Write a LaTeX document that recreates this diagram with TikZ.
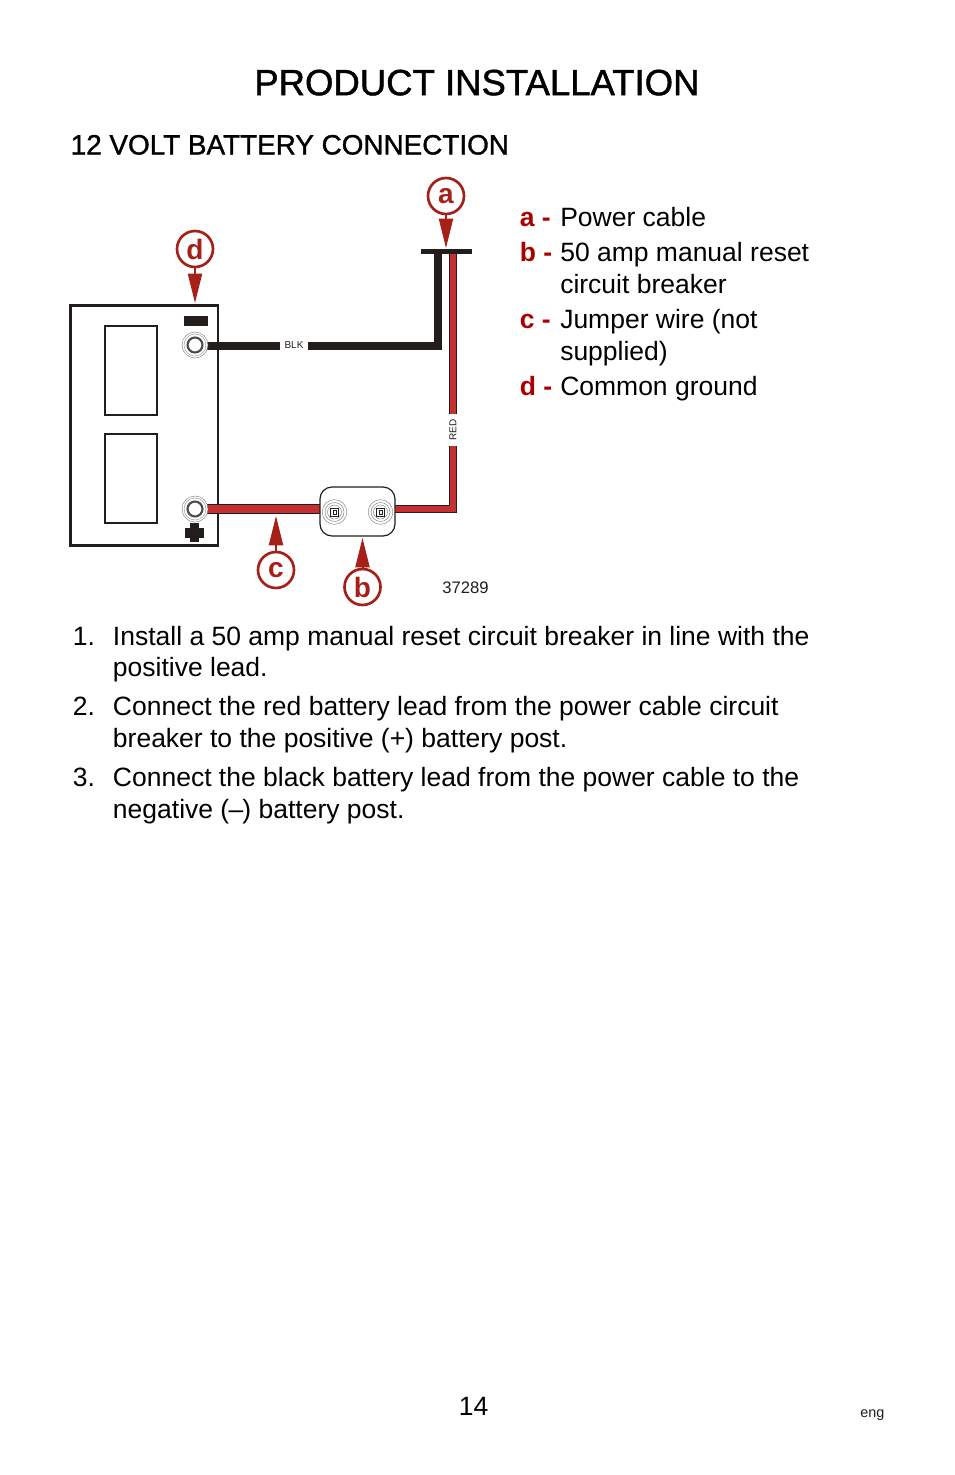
\documentclass[tikz,border=0pt]{standalone}
\usepackage{fontspec}
\setmainfont{Liberation Sans}
\newfontfamily\headfont[FakeBold=1.2]{Liberation Sans}
\usetikzlibrary{arrows.meta,calc}
\definecolor{wirered}{RGB}{196,48,48}
\definecolor{calloutred}{RGB}{166,32,26}
\definecolor{keyred}{RGB}{170,0,0}
\definecolor{inkblack}{RGB}{35,30,28}
\newcommand{\unitpx}{*0.75pt}
\tikzset{
  txt/.style={anchor=base west,inner sep=0pt,text=black},
  body/.style={txt,font=\fontsize{19.87}{24}\selectfont},
  keyletter/.style={txt,font=\fontsize{19.87}{24}\selectfont\bfseries,text=keyred},
  tiny/.style={inner sep=2pt,fill=white,text=inkblack,font=\fontsize{7.5}{9}\selectfont},
  callout/.style={circle,draw=calloutred,line width=2pt,fill=white,minimum size=36\unitpx,inner sep=0pt,text=calloutred,font=\fontsize{21}{24}\selectfont\bfseries},
  pointer/.style={calloutred,line width=1.5pt,-{Triangle[length=22pt,width=10.5pt]}},
  stud/.style={circle,draw=black!55,line width=.3pt,fill=white,inner sep=0pt},
}
\begin{document}
\begin{tikzpicture}[x=0.75pt,y=-0.75pt]
\useasboundingbox (0,0) rectangle (954,1475);
% headings
\node[txt,font=\fontsize{27.4}{32}\selectfont\headfont] (title) at (254,95.2) {PRODUCT INSTALLATION};
\node[txt,font=\fontsize{20.9}{26}\selectfont\headfont] (section) at (70.5,154.4) {12 VOLT BATTERY CONNECTION};
% battery
\draw[inkblack,line width=2.2pt] (70.5,305.5) rectangle (218,545.5);
\draw[inkblack,line width=1.5pt] (105,326) rectangle (157,415);
\draw[inkblack,line width=1.5pt] (105,434) rectangle (157,523);
\fill[inkblack] (184,316) rectangle (208,326);
\fill[inkblack] (185,528) rectangle (204,538);
\fill[inkblack] (190,523) rectangle (199,542);
% wires
\coordinate (blkpost) at (207,346);
\coordinate (blkcorner) at (437.5,346);
\coordinate (blktop) at (437.5,252);
\coordinate (redpost) at (207,509);
\coordinate (redcorner) at (453,509);
\coordinate (redtop) at (453,252);
\node[minimum width=111\unitpx,minimum height=49\unitpx,inner sep=0pt] (breaker) at (357.5,511.5) {};
\draw[inkblack,line width=6pt,line join=miter] (blkpost) -- (blkcorner) -- (blktop);
\draw[inkblack,line width=7.5pt] (redpost) -- (breaker.center |- redpost);
\draw[wirered,line width=6pt] (redpost) -- (breaker.center |- redpost);
\draw[inkblack,line width=6pt,line join=miter] (breaker.center |- redpost) -- (redcorner) -- (redtop);
\draw[wirered,line width=4.4pt,line join=miter] (breaker.center |- redpost) -- (redcorner) -- (redtop);
\fill[inkblack] (421,249) rectangle (472,254);
\node[tiny,inner xsep=3.4pt] (blk) at (294,345) {BLK};
\node[tiny,rotate=90,inner xsep=4.4pt,inner ysep=3pt] (red) at (453,430) {RED};
% posts
\foreach \name/\py in {negpost/345,pospost/509} {
  \node[stud,minimum size=19.5pt] (\name) at (195,\py) {};
  \draw[black!45,line width=.3pt] (\name) circle (11);
  \draw[black!70,line width=1.6pt,fill=white] (\name) circle (7.5);
}
% circuit breaker
\draw[inkblack,line width=.9pt,fill=white,rounded corners=9pt] (320,487) rectangle (395,536);
\foreach \name/\sx in {studl/334.5,studr/380.5} {
  \node[stud,minimum size=18.5pt] (\name) at (\sx,512) {};
  \draw[black!55,line width=.3pt] (\name) circle (9.5);
  \draw[black!55,line width=.3pt] (\name) circle (7);
  \draw[inkblack,line width=.5pt] ($(\name)+(-4,-4)$) rectangle ($(\name)+(4,4)$);
  \draw[inkblack,line width=.4pt] ($(\name)+(-1.5,-2)$) rectangle ($(\name)+(1.5,2)$);
}
% callouts
\node[callout] (calla) at (446,196) {a};
\node[callout] (callb) at (362.5,587) {b};
\node[callout] (callc) at (276,570) {c};
\node[callout] (calld) at (195,249) {d};
\coordinate (tipa) at (446,248);
\coordinate (tipb) at (362.5,538);
\coordinate (tipc) at (276,516);
\coordinate (tipd) at (195,303);
\foreach \from/\to in {calla/tipa,callb/tipb,callc/tipc,calld/tipd}
  \draw[pointer] (\from) -- (\to);
\node[txt,font=\fontsize{12.5}{15}\selectfont,text=inkblack] (partno) at (442,593) {37289};
% key
\foreach \lx/\ly in {a/226.3,b/261.3,c/328.3,d/395.3}
  \node[keyletter] (mark\lx) at (519.5,\ly) {\lx\ -};
\node[body] (keya) at (560,226.3) {Power cable};
\node[body] (keyb1) at (560,261.3) {50 amp manual reset};
\node[body] (keyb2) at (560,293.3) {circuit breaker};
\node[body] (keyc1) at (560,328.3) {Jumper wire (not};
\node[body] (keyc2) at (560,360.3) {supplied)};
\node[body] (keyd) at (560,395.3) {Common ground};
% steps
\node[body] (num1) at (72.7,645.3) {1.};
\node[body] (step1a) at (112.7,645.3) {Install a 50 amp manual reset circuit breaker in line with the};
\node[body] (step1b) at (112.7,676.5) {positive lead.};
\node[body] (num2) at (72.7,715.3) {2.};
\node[body] (step2a) at (112.7,715.3) {Connect the red battery lead from the power cable circuit};
\node[body] (step2b) at (112.7,747.3) {breaker to the positive (+) battery post.};
\node[body] (num3) at (72.7,786.3) {3.};
\node[body] (step3a) at (112.7,786.3) {Connect the black battery lead from the power cable to the};
\node[body] (step3b) at (112.7,818.3) {negative (\kern-.6pt--\kern-.6pt) battery post.};
% footer
\node[body] (page) at (458.5,1415.5) {14};
\node[txt,font=\fontsize{10.8}{13}\selectfont,text=inkblack] (lang) at (860,1417) {eng};
\end{tikzpicture}
\end{document}
